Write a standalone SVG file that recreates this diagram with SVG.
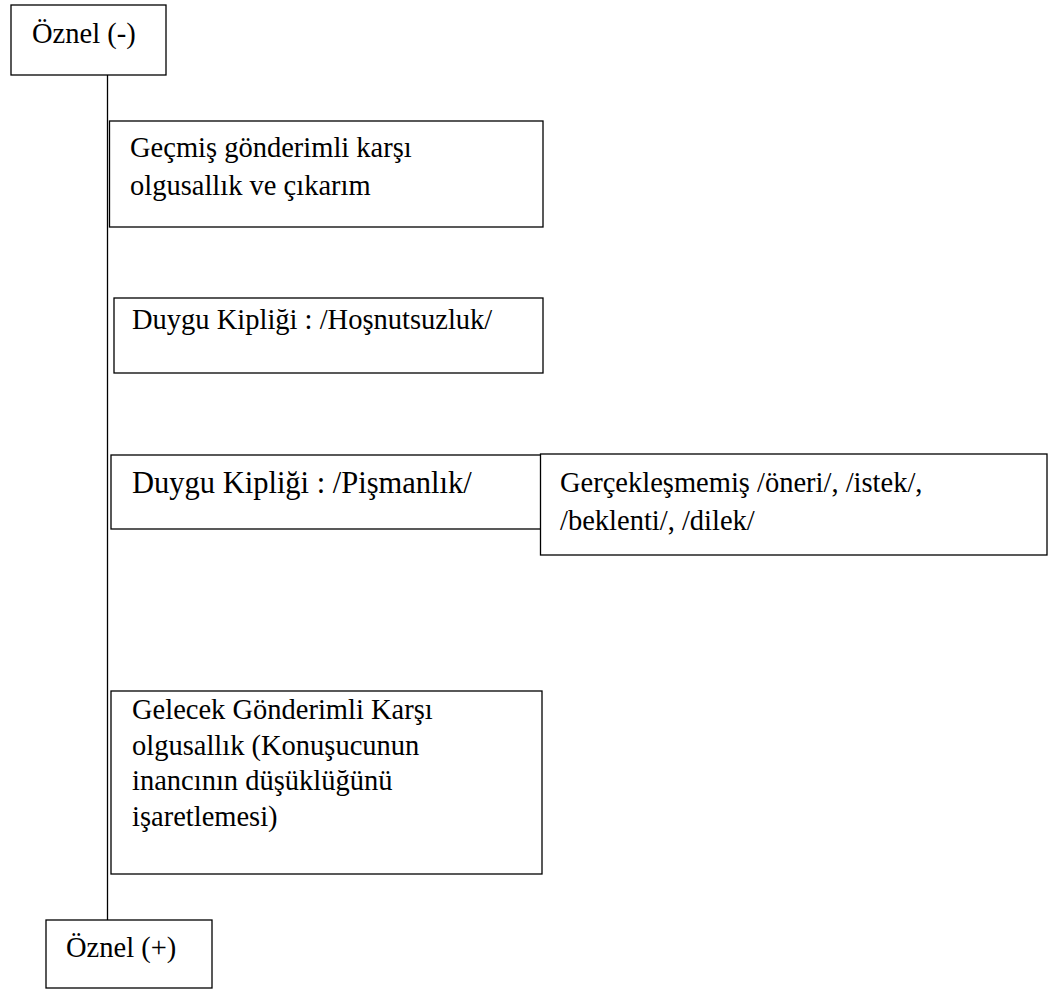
<svg xmlns="http://www.w3.org/2000/svg" width="1052" height="990" viewBox="0 0 1052 990">
  <style>
    .box { fill: #ffffff; stroke: #000000; stroke-width: 1.3; }
    .lbl { font-family: 'Liberation Serif', Tinos, 'DejaVu Serif', 'Times New Roman', serif; font-size: 28.5px; fill: #000000; }
    .wide { font-size: 30.5px; }
    .link { stroke: #000000; stroke-width: 1.3; fill: none; }
  </style>
  <rect width="1052" height="990" fill="#ffffff"/>

  <!-- spine connecting the two poles -->
  <g id="connectors">
    <line class="link" x1="107.5" y1="75" x2="107.5" y2="920"/>
  </g>

  <g id="node-oznel-minus">
    <rect class="box" x="11" y="5" width="155" height="70"/>
    <text class="lbl" x="32" y="43">Öznel (-)</text>
  </g>

  <g id="node-gecmis">
    <rect class="box" x="109.5" y="121" width="433.5" height="106"/>
    <text class="lbl" x="130" y="157">Geçmiş gönderimli karşı</text>
    <text class="lbl" x="130" y="195">olgusallık ve çıkarım</text>
  </g>

  <g id="node-hosnutsuzluk">
    <rect class="box" x="114" y="298" width="429" height="75"/>
    <text class="lbl" x="132" y="329">Duygu Kipliği : /Hoşnutsuzluk/</text>
  </g>

  <g id="node-pismanlik">
    <rect class="box" x="111" y="455" width="430" height="74"/>
    <text class="lbl wide" x="132" y="493">Duygu Kipliği : /Pişmanlık/</text>
  </g>

  <g id="node-gerceklesmemis">
    <rect class="box" x="540.5" y="454" width="506.5" height="101"/>
    <text class="lbl" x="560" y="492">Gerçekleşmemiş /öneri/, /istek/,</text>
    <text class="lbl" x="560" y="530">/beklenti/, /dilek/</text>
  </g>

  <g id="node-gelecek">
    <rect class="box" x="111" y="691" width="431" height="183"/>
    <text class="lbl" x="132" y="719">Gelecek Gönderimli Karşı</text>
    <text class="lbl" x="132" y="755">olgusallık (Konuşucunun</text>
    <text class="lbl" x="132" y="790">inancının düşüklüğünü</text>
    <text class="lbl" x="132" y="826">işaretlemesi)</text>
  </g>

  <g id="node-oznel-plus">
    <rect class="box" x="46" y="920" width="166" height="68"/>
    <text class="lbl" x="66" y="957">Öznel (+)</text>
  </g>
</svg>
